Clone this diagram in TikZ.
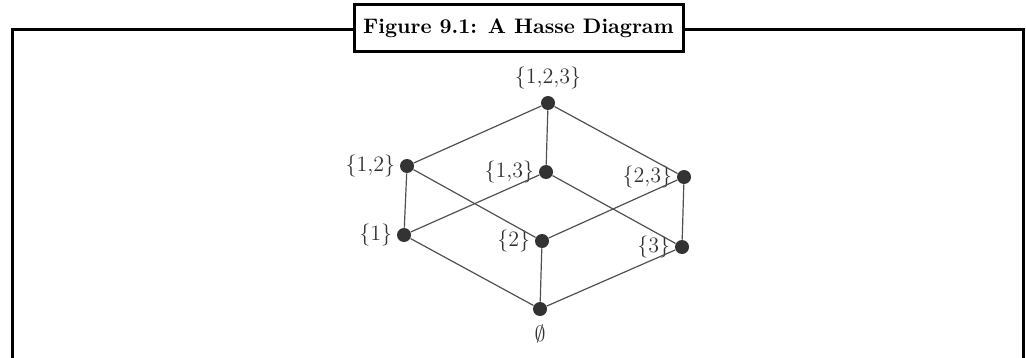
\documentclass[tikz,border=0pt]{standalone}
\usepackage{amsmath,amssymb}
\usepackage{xcolor}
\usepackage{tikz}
\usetikzlibrary{positioning}
\definecolor{ink}{HTML}{333333}
\definecolor{edgegray}{HTML}{505050}
\tikzset{
  frame/.style={line width=1.5pt,black},
  ttl/.style={draw=black,line width=1.5pt,fill=white,font=\bfseries\fontsize{10.5}{12}\selectfont,
              minimum width=164.5pt,minimum height=23.5pt,inner sep=2pt},
  vtx/.style={circle,fill=ink,inner sep=0pt,minimum size=7pt},
  lbl/.style={text=ink,font=\fontsize{11}{13}\selectfont,inner sep=1pt},
  hedge/.style={edgegray,line width=0.6pt},
}

\begin{document}
\begin{tikzpicture}[x=0.5pt,y=-0.5pt]
\useasboundingbox (0,0) rectangle (1026,358);
\draw[frame] (12,358) -- (12,30) -- (1023,30) -- (1023,358);
\node[ttl] (title) at (518.5,28.5) {Figure 9.1: A Hasse Diagram};
% vertices
\node[vtx,label={[lbl,label distance=2pt]above:\{1,2,3\}}] (s123) at (548,103) {};
\node[vtx,label={[lbl,label distance=1pt]left:\{1,2\}}] (s12) at (407,166) {};
\node[vtx,label={[lbl,label distance=1pt]left:\{1,3\}}] (s13) at (546,172) {};
\node[vtx,label={[lbl,label distance=1pt]left:\{2,3\}}] (s23) at (684,177) {};
\node[vtx,label={[lbl,label distance=1pt]left:\{1\}}] (s1) at (404,235) {};
\node[vtx,label={[lbl,label distance=1pt]left:\{2\}}] (s2) at (542,241) {};
\node[vtx,label={[lbl,label distance=1pt]left:\{3\}}] (s3) at (682,247) {};
\node[vtx,label={[lbl,label distance=3pt]below:$\emptyset$}] (s0) at (540,309) {};
% covering relations
\draw[hedge] (s123) -- (s12);
\draw[hedge] (s123) -- (s13);
\draw[hedge] (s123) -- (s23);
\draw[hedge] (s12) -- (s1);
\draw[hedge] (s12) -- (s2);
\draw[hedge] (s13) -- (s1);
\draw[hedge] (s13) -- (s3);
\draw[hedge] (s23) -- (s2);
\draw[hedge] (s23) -- (s3);
\draw[hedge] (s1) -- (s0);
\draw[hedge] (s2) -- (s0);
\draw[hedge] (s3) -- (s0);
\end{tikzpicture}
\end{document}
